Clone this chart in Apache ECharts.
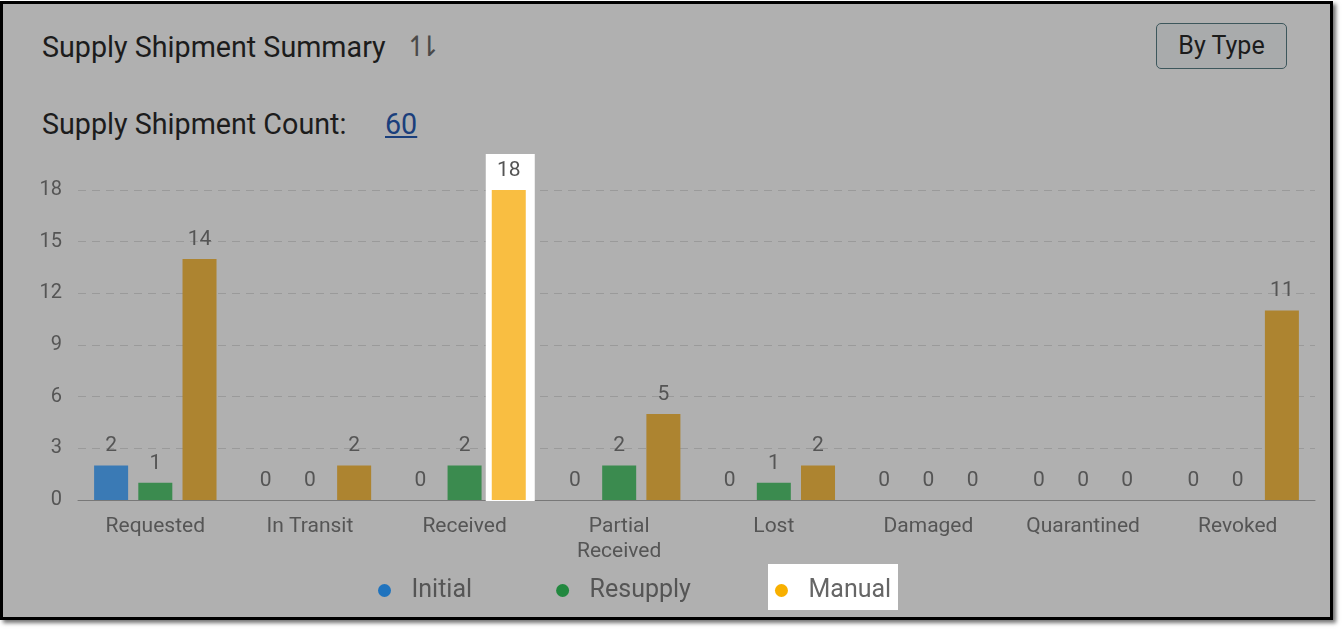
<!DOCTYPE html>
<html>
<head>
<meta charset="utf-8">
<script src="https://cdn.jsdelivr.net/npm/echarts@6/dist/echarts.min.js"></script>
<style>
  html, body { margin: 0; padding: 0; background: #fff; width: 1342px; height: 630px; overflow: hidden; font-family: Roboto, sans-serif; }
  #frame { position: absolute; left: 0; top: 1px; width: 1327px; height: 613px; border: 3px solid #000; background: #b0b0b0; box-shadow: 3px 3px 4px rgba(0,0,0,0.55); }
  #posert { position: absolute; left: 0; top: 0; width: 1342px; height: 630px; }
  .txt { position: absolute; color: #1c1c1c; font-size: 28.7px; white-space: nowrap; line-height: 32px; }
  #sortIcon { position: absolute; left: 405px; top: 30px; font-family: "DejaVu Sans", sans-serif; font-size: 28px; line-height: 34px; color: #4a4a4a; letter-spacing: -11px; }
  #count { position: absolute; left: 385px; top: 108px; font-size: 28.7px; line-height: 32px; color: #1a3f7c; text-decoration: underline; }
  #btn { position: absolute; left: 1156px; top: 23px; width: 129px; height: 44px; border: 1px solid #3d575c; border-radius: 5px; background: #a9abac; color: #1c1c1c; font-size: 25px; line-height: 44px; text-align: center; }
</style>
</head>
<body>
<div id="frame"></div>
<div class="txt" style="left:42px; top:31px;">Supply Shipment Summary</div>
<div id="sortIcon">↿⇂</div>
<div class="txt" style="left:42px; top:108px;">Supply Shipment Count:</div>
<div id="count">60</div>
<div id="btn">By Type</div>
<div id="posert"></div>
<script>
// 数据
var categories = ['Requested', 'In Transit', 'Received', 'Partial\nReceived', 'Lost', 'Damaged', 'Quarantined', 'Revoked'];
var seriesNames = ['Initial', 'Resupply', 'Manual'];
var initialData = [2, 0, 0, 0, 0, 0, 0, 0];
var resupplyData = [1, 0, 2, 2, 1, 0, 0, 0];
var manualData = [14, 2, 18, 5, 2, 0, 0, 11];
var highlightIndex = 2; // Received / Manual

var barColors = ['#3a7ab5', '#3b8b4f', '#ad8430'];
var legendColors = ['#1f73be', '#22883f', '#f8b000'];
var highlightColor = '#f9be41';

var Chart = echarts.init(document.getElementById('posert'));

var valueLabel = {
    show: true,
    position: 'top',
    distance: 9,
    color: '#555',
    fontSize: 21,
    fontFamily: 'Roboto'
};

function makeSeries(name, values, idx) {
    return {
        name: name,
        type: 'bar',
        barWidth: 34,
        barGap: '30%',
        z: 3,
        itemStyle: { color: barColors[idx] },
        label: valueLabel,
        data: values.map(function (v, i) {
            if (idx === 2 && i === highlightIndex) {
                return { value: v, itemStyle: { color: highlightColor } };
            }
            return v;
        })
    };
}

var option = {
    animation: false,
    backgroundColor: 'transparent',
    textStyle: { fontFamily: 'Roboto' },
    grid: { left: 78, right: 27, top: 190, bottom: 130 },
    legend: {
        left: 373,
        top: 573,
        icon: 'circle',
        itemWidth: 44,
        itemHeight: 13,
        itemGap: 84,
        textStyle: { fontSize: 25, color: '#555', fontFamily: 'Roboto' },
        data: seriesNames.map(function (n, i) {
            var d = { name: n, itemStyle: { color: legendColors[i] } };
            if (i === 2) d.textStyle = { color: '#666' };
            return d;
        }),
        selectedMode: false
    },
    xAxis: {
        type: 'category',
        data: categories,
        axisTick: { show: false },
        axisLine: { lineStyle: { color: '#787878', width: 1 } },
        axisLabel: { color: '#555', fontSize: 21, margin: 14, lineHeight: 25, interval: 0 }
    },
    yAxis: {
        type: 'value',
        min: 0,
        max: 18,
        interval: 3,
        axisLine: { show: false },
        axisTick: { show: false },
        axisLabel: { color: '#555', fontSize: 20, margin: 16 },
        splitLine: { lineStyle: { color: '#9a9a9a', type: [8, 6] } }
    },
    series: [
        makeSeries(seriesNames[0], initialData, 0),
        makeSeries(seriesNames[1], resupplyData, 1),
        makeSeries(seriesNames[2], manualData, 2)
    ]
};
Chart.setOption(option);

// 高亮框：根据柱子的实际布局计算
var layout = Chart.getModel().getSeriesByIndex(2).getData().getItemLayout(highlightIndex);
var bx = Math.min(layout.x, layout.x + layout.width);
var bw = Math.abs(layout.width);
var by = Math.min(layout.y, layout.y + layout.height);
var bh = Math.abs(layout.height);
Chart.setOption({
    graphic: [
        {
            type: 'rect',
            z: 1,
            shape: { x: bx - 6, y: by - 36, width: bw + 15, height: bh + 37 },
            style: { fill: '#fff' }
        },
        {
            type: 'rect',
            z: 1,
            shape: { x: 768, y: 564, width: 130, height: 46 },
            style: { fill: '#fff' }
        }
    ]
});
</script>
</body>
</html>
